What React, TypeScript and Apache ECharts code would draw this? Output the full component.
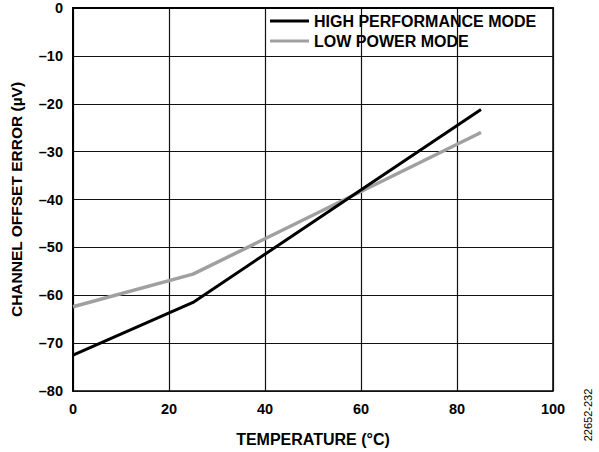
import React, { useEffect, useRef } from "react";
import * as echarts from "echarts";

const temperatures = [0, 25, 85];
const highPerformance = [-72.5, -61.5, -21.2];
const lowPower = [-62.4, -55.6, -26];
const seriesNames = ["HIGH PERFORMANCE MODE", "LOW POWER MODE"];
const xTitle = "TEMPERATURE (°C)";
const yTitle = "CHANNEL OFFSET ERROR (µV)";
const figureId = "22652-232";

const FONT = "'Liberation Sans', Arial, Helvetica, sans-serif";

export default function App() {
  const ref = useRef<HTMLDivElement>(null);
  useEffect(() => {
    if (!ref.current) return;
    const chart = echarts.init(ref.current, undefined, { renderer: "svg" });
    const toPairs = (ys: number[]) => temperatures.map((t, i) => [t, ys[i]]);
    chart.setOption({
      animation: false,
      backgroundColor: "#fff",
      textStyle: { fontFamily: FONT },
      grid: {
        left: 73,
        right: 46,
        top: 8,
        bottom: 60,
        show: true,
        borderColor: "#000",
        borderWidth: 1.5,
        backgroundColor: "transparent",
      },
      legend: {
        show: true,
        left: 270,
        top: 13,
        padding: 0,
        orient: "vertical",
        itemWidth: 39,
        itemHeight: 3,
        itemGap: 4,
        icon: "rect",
        textStyle: { fontFamily: FONT, fontWeight: "bold", fontSize: 16, color: "#000" },
        data: seriesNames,
      },
      xAxis: {
        type: "value",
        min: 0,
        max: 100,
        interval: 20,
        name: xTitle,
        nameLocation: "middle",
        nameGap: 40,
        nameTextStyle: { fontFamily: FONT, fontWeight: "bold", fontSize: 16, color: "#000" },
        axisLine: { show: true, lineStyle: { color: "#000", width: 2 } },
        axisTick: { show: false },
        axisLabel: { fontFamily: FONT, fontWeight: "bold", fontSize: 14.5, color: "#000", margin: 10 },
        splitLine: { show: true, lineStyle: { color: "#111", width: 1.2 } },
      },
      yAxis: {
        type: "value",
        min: -80,
        max: 0,
        interval: 10,
        name: yTitle,
        nameLocation: "middle",
        nameGap: 49,
        nameTextStyle: { fontFamily: FONT, fontWeight: "bold", fontSize: 15.5, color: "#000" },
        axisLine: { show: true, lineStyle: { color: "#000", width: 2 } },
        axisTick: { show: false },
        axisLabel: {
          fontFamily: FONT,
          fontWeight: "bold",
          fontSize: 14.5,
          color: "#000",
          margin: 10,
          formatter: (v: number) => String(v).replace("-", "\u2013"),
        },
        splitLine: { show: true, lineStyle: { color: "#111", width: 1.2 } },
      },
      graphic: [
        {
          type: "text",
          x: 588,
          y: 415,
          rotation: Math.PI / 2,
          style: {
            text: figureId,
            fontFamily: FONT,
            fontSize: 11,
            fill: "#000",
            align: "center",
            verticalAlign: "middle",
          },
        },
      ],
      series: [
        {
          name: seriesNames[0],
          type: "line",
          data: toPairs(highPerformance),
          showSymbol: false,
          symbol: "none",
          lineStyle: { color: "#000", width: 3 },
          itemStyle: { color: "#000" },
          z: 3,
        },
        {
          name: seriesNames[1],
          type: "line",
          data: toPairs(lowPower),
          showSymbol: false,
          symbol: "none",
          lineStyle: { color: "#a0a0a0", width: 3.5 },
          itemStyle: { color: "#a0a0a0" },
          z: 2,
        },
      ],
    });
    return () => chart.dispose();
  }, []);
  return <div ref={ref} style={{ width: 599, height: 452, position: "absolute", left: 0, top: 0 }} />;
}
